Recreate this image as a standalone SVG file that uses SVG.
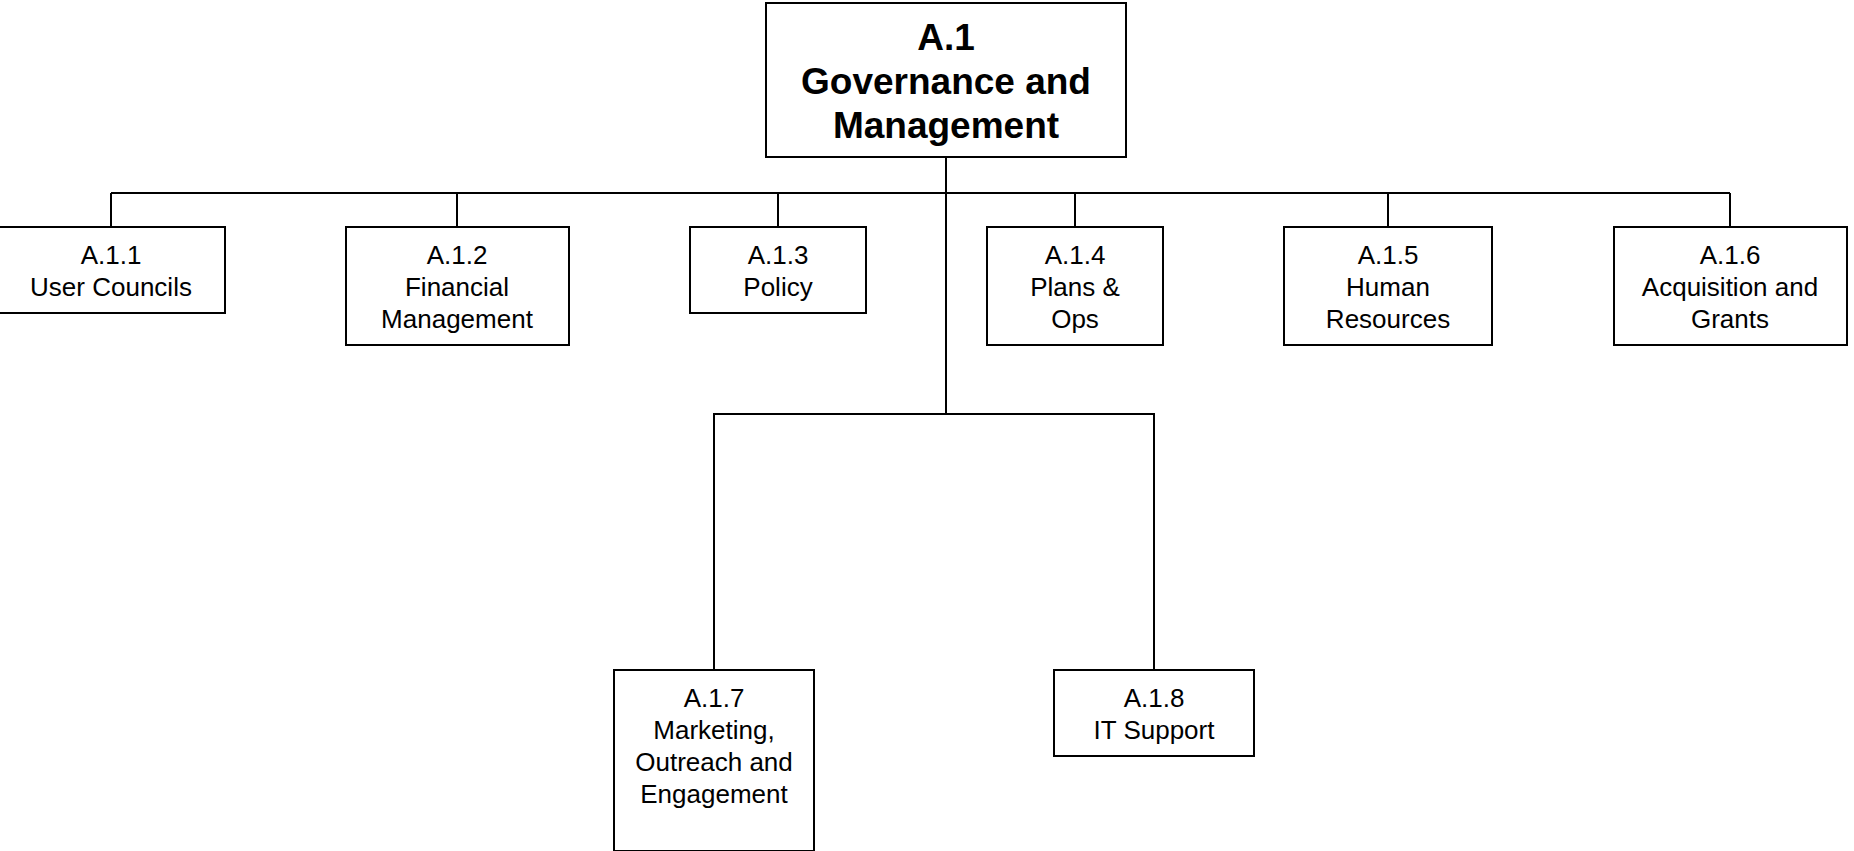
<svg xmlns="http://www.w3.org/2000/svg" width="1854" height="851" viewBox="0 0 1854 851">
<style>
.box{fill:#fff;stroke:#000;stroke-width:2}
.conn line,.conn path{stroke:#000;stroke-width:2;fill:none}
.t{font-family:"Liberation Sans",Arial,sans-serif;font-size:26px;fill:#000;text-anchor:middle}
.tb{font-family:"Liberation Sans",Arial,sans-serif;font-size:37px;font-weight:bold;fill:#000;text-anchor:middle}
</style>
<rect width="1854" height="851" fill="#fff"/>
<g id="connectors" class="conn">
<line x1="946" y1="157" x2="946" y2="414"/>
<line x1="111" y1="193" x2="1730" y2="193"/>
<line x1="111" y1="193" x2="111" y2="227"/>
<line x1="457" y1="193" x2="457" y2="227"/>
<line x1="778" y1="193" x2="778" y2="227"/>
<line x1="1075" y1="193" x2="1075" y2="227"/>
<line x1="1388" y1="193" x2="1388" y2="227"/>
<line x1="1730" y1="193" x2="1730" y2="227"/>
<path d="M714 670 V414 H1154 V670"/>
</g>
<g id="A1">
<rect class="box" x="766" y="3" width="360" height="154"/>
<text class="tb" x="946" y="50">A.1</text>
<text class="tb" x="946" y="94">Governance and</text>
<text class="tb" x="946" y="138">Management</text>
</g>
<g id="A11">
<rect class="box" x="-3" y="227" width="228" height="86"/>
<text class="t" x="111" y="264">A.1.1</text>
<text class="t" x="111" y="296">User Councils</text>
</g>
<g id="A12">
<rect class="box" x="346" y="227" width="223" height="118"/>
<text class="t" x="457" y="264">A.1.2</text>
<text class="t" x="457" y="296">Financial</text>
<text class="t" x="457" y="328">Management</text>
</g>
<g id="A13">
<rect class="box" x="690" y="227" width="176" height="86"/>
<text class="t" x="778" y="264">A.1.3</text>
<text class="t" x="778" y="296">Policy</text>
</g>
<g id="A14">
<rect class="box" x="987" y="227" width="176" height="118"/>
<text class="t" x="1075" y="264">A.1.4</text>
<text class="t" x="1075" y="296">Plans &amp;</text>
<text class="t" x="1075" y="328">Ops</text>
</g>
<g id="A15">
<rect class="box" x="1284" y="227" width="208" height="118"/>
<text class="t" x="1388" y="264">A.1.5</text>
<text class="t" x="1388" y="296">Human</text>
<text class="t" x="1388" y="328">Resources</text>
</g>
<g id="A16">
<rect class="box" x="1614" y="227" width="233" height="118"/>
<text class="t" x="1730" y="264">A.1.6</text>
<text class="t" x="1730" y="296">Acquisition and</text>
<text class="t" x="1730" y="328">Grants</text>
</g>
<g id="A17">
<rect class="box" x="614" y="670" width="200" height="181"/>
<text class="t" x="714" y="707">A.1.7</text>
<text class="t" x="714" y="739">Marketing,</text>
<text class="t" x="714" y="771">Outreach and</text>
<text class="t" x="714" y="803">Engagement</text>
</g>
<g id="A18">
<rect class="box" x="1054" y="670" width="200" height="86"/>
<text class="t" x="1154" y="707">A.1.8</text>
<text class="t" x="1154" y="739">IT Support</text>
</g>
</svg>
